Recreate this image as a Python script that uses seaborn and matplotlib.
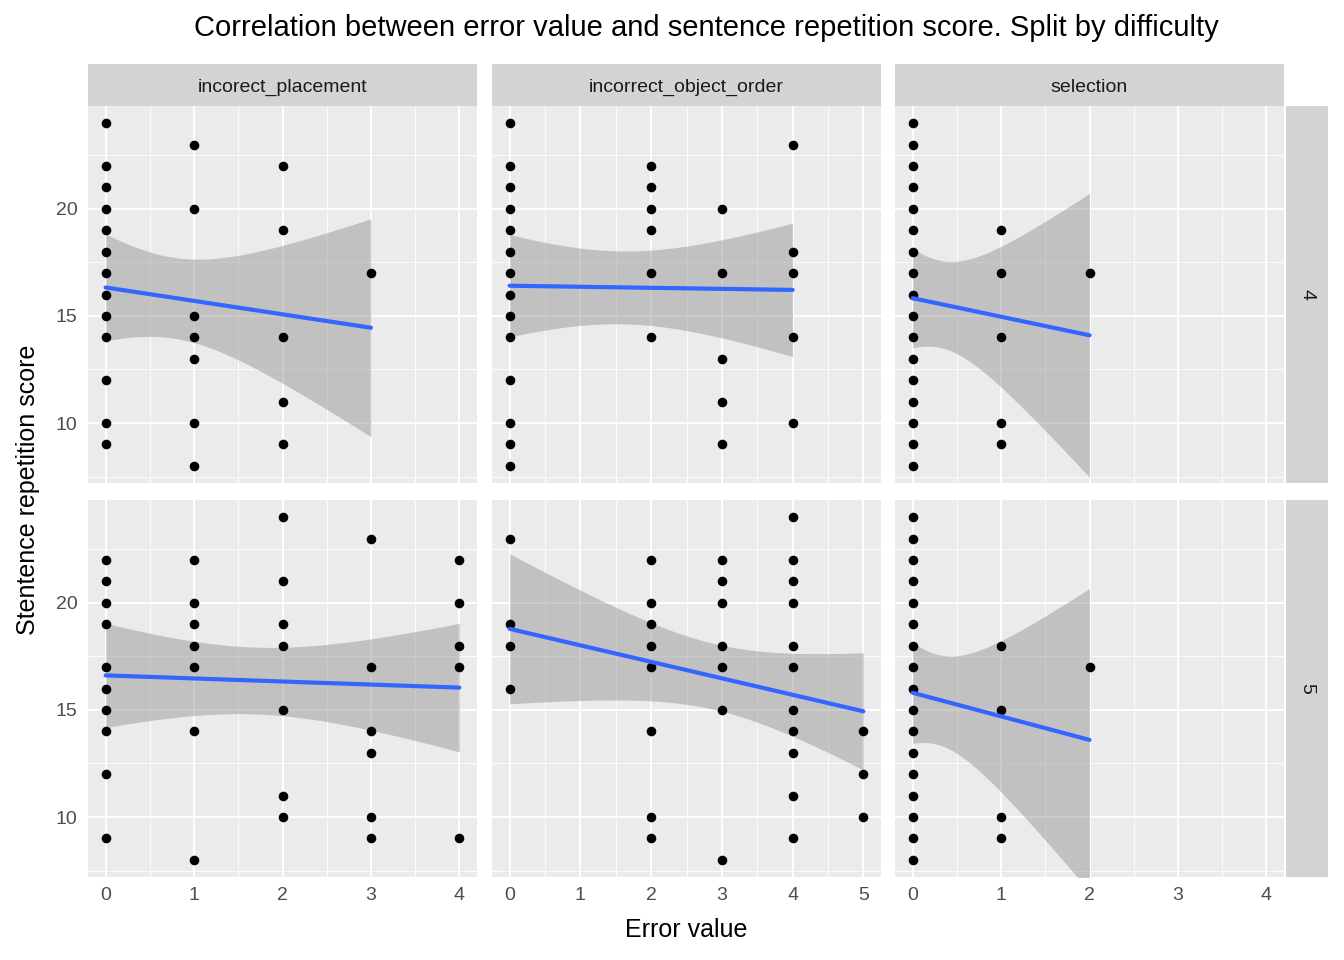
import matplotlib
matplotlib.use("Agg")
import matplotlib.pyplot as plt
import numpy as np
import pandas as pd
import seaborn as sns

sns.set_style("white")
plt.rcParams['font.family'] = ['Liberation Sans', 'DejaVu Sans']

columns = ["incorect_placement", "incorrect_object_order", "selection"]
rows = ["4", "5"]

# points: {(row, col): {error value: [scores]}}
points = {
    ("4", "incorect_placement"): {0: [24, 22, 21, 20, 19, 18, 17, 16, 15, 14, 12, 10, 9],
                                  1: [23, 20, 15, 14, 13, 10, 8], 2: [22, 19, 14, 11, 9], 3: [17]},
    ("4", "incorrect_object_order"): {0: [24, 22, 21, 20, 19, 18, 17, 16, 15, 14, 12, 10, 9, 8],
                                      2: [22, 21, 20, 19, 17, 14], 3: [20, 17, 13, 11, 9],
                                      4: [23, 18, 17, 14, 10]},
    ("4", "selection"): {0: [24, 23, 22, 21, 20, 19, 18, 17, 16, 15, 14, 13, 12, 11, 10, 9, 8],
                         1: [19, 17, 14, 10, 9], 2: [17]},
    ("5", "incorect_placement"): {0: [22, 21, 20, 19, 17, 16, 15, 14, 12, 9],
                                  1: [22, 20, 19, 18, 17, 14, 8], 2: [24, 21, 19, 18, 15, 11, 10],
                                  3: [23, 17, 14, 13, 10, 9], 4: [22, 20, 18, 17, 9]},
    ("5", "incorrect_object_order"): {0: [23, 19, 18, 16], 2: [22, 20, 19, 18, 17, 14, 10, 9],
                                      3: [22, 21, 20, 18, 17, 15, 8],
                                      4: [24, 22, 21, 20, 18, 17, 15, 14, 13, 11, 9],
                                      5: [14, 12, 10]},
    ("5", "selection"): {0: [24, 23, 22, 21, 20, 19, 18, 17, 16, 15, 14, 13, 12, 11, 10, 9, 8],
                         1: [18, 15, 10, 9], 2: [17]},
}
x_max = {"incorect_placement": 4, "incorrect_object_order": 5, "selection": 4}

fig = plt.figure(figsize=(13.44, 9.6), dpi=100)
W, H = 1344, 960
col_left = [88, 492, 895]
col_w = 389
row_top = [106, 500]
row_h = 377
strip_c = "#D3D3D3"

for ri, r in enumerate(rows):
    for ci, c in enumerate(columns):
        ax = fig.add_axes([col_left[ci] / W, 1 - (row_top[ri] + row_h) / H, col_w / W, row_h / H])
        ax.set_facecolor("#EBEBEB")
        recs = [(x, y) for x, ys in points[(r, c)].items() for y in ys]
        df = pd.DataFrame(recs, columns=["err", "score"])
        sns.regplot(data=df, x="err", y="score", ax=ax, fit_reg=False,
                    scatter_kws=dict(color="black", s=48, linewidths=0, zorder=3, alpha=1))
        # linear fit with analytic 95% band (like geom_smooth(method="lm"))
        x = df["err"].to_numpy(float)
        y = df["score"].to_numpy(float)
        n = len(x)
        b, a = np.polyfit(x, y, 1)
        resid = y - (a + b * x)
        s = np.sqrt(np.sum(resid ** 2) / (n - 2))
        xs = np.linspace(x.min(), x.max(), 80)
        se = s * np.sqrt(1 / n + (xs - x.mean()) ** 2 / np.sum((x - x.mean()) ** 2))
        t = 2.0 if n < 40 else 1.99
        yfit = a + b * xs
        ax.fill_between(xs, yfit - t * se, yfit + t * se, color="#999999", alpha=0.5, lw=0, zorder=2)
        ax.plot(xs, yfit, color="#3366FF", lw=3, zorder=4)
        xm = x_max[c]
        pad = xm * 0.05
        ax.set_xlim(-pad, 4.2 if xm == 4 else xm + pad)
        ax.set_ylim(7.2, 24.8)
        ax.set_xticks(range(xm + 1))
        ax.set_xticks(np.arange(0.5, xm, 1), minor=True)
        ax.set_yticks([10, 15, 20])
        ax.set_yticks([7.5, 12.5, 17.5, 22.5], minor=True)
        ax.grid(which="major", color="white", lw=1.4)
        ax.grid(which="minor", color="white", lw=0.6)
        ax.set_axisbelow(True)
        for sp in ax.spines.values():
            sp.set_visible(False)
        ax.tick_params(which="both", length=4, color="#333333", labelsize=14, labelcolor="#4D4D4D")
        ax.tick_params(which="minor", length=0)
        ax.set_xlabel("")
        ax.set_ylabel("")
        if ri == 0:
            ax.set_xticklabels([])
            ax.tick_params(axis="x", length=0)
        if ci > 0:
            ax.set_yticklabels([])
            ax.tick_params(axis="y", length=0)
        if ri == 0:
            sax = fig.add_axes([col_left[ci] / W, 1 - row_top[ri] / H, col_w / W, 42 / H])
            sax.set_facecolor(strip_c)
            sax.set_xticks([]); sax.set_yticks([])
            for sp in sax.spines.values():
                sp.set_visible(False)
            sax.text(0.5, 0.45, c, ha="center", va="center", fontsize=14, color="#1A1A1A")
        if ci == 2:
            sax = fig.add_axes([1286 / W, 1 - (row_top[ri] + row_h) / H, 42 / W, row_h / H])
            sax.set_facecolor(strip_c)
            sax.set_xticks([]); sax.set_yticks([])
            for sp in sax.spines.values():
                sp.set_visible(False)
            sax.text(0.5, 0.5, r, ha="center", va="center", rotation=-90, fontsize=14, color="#1A1A1A")

fig.text(706 / W, 1 - 28 / H, "Correlation between error value and sentence repetition score. Split by difficulty",
         ha="center", va="center", fontsize=21, color="black")
fig.text(686 / W, 1 - 930 / H, "Error value", ha="center", va="center", fontsize=18, color="black")
fig.text(28 / W, 1 - 490 / H, "Stentence repetition score", ha="center", va="center", rotation=90,
         fontsize=18, color="black")

fig.savefig("out.png", dpi=100)
